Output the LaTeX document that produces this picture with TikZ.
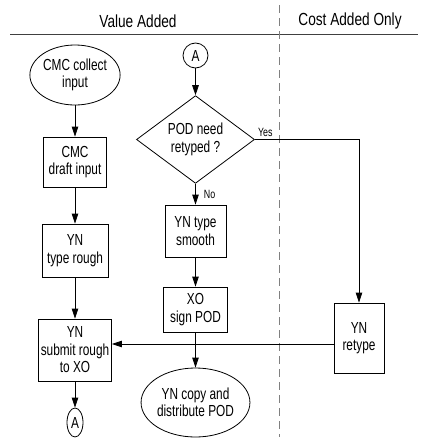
\documentclass[tikz,border=0pt]{standalone}
\usepackage{fontspec}
\setmainfont{Liberation Sans}
\newfontfamily\narrowfont[FakeStretch=0.74]{Liberation Sans}
\newfontfamily\headfont[FakeStretch=0.78]{Liberation Sans}
\usetikzlibrary{arrows.meta,positioning,shapes.geometric}

\begin{document}
\begin{tikzpicture}[x=1pt,y=-1pt,
    every node/.style={font=\narrowfont\fontsize{16}{17.5}\selectfont,align=center,inner sep=0pt},
    box/.style={draw,line width=0.8pt,rectangle},
    term/.style={draw,line width=0.8pt,ellipse},
    conn/.style={draw,line width=0.8pt,ellipse,minimum width=25pt,minimum height=25pt},
    dec/.style={draw,line width=0.8pt,diamond,minimum width=118pt,minimum height=73pt},
    arr/.style={-{Triangle[length=10pt,width=6.5pt]},line width=0.8pt},
    lbl/.style={font=\narrowfont\fontsize{12}{13}\selectfont},
    hdr/.style={font=\headfont\fontsize{17.5}{20}\selectfont}]
  \useasboundingbox (0,0) rectangle (421,439);

  % swimlane headers
  \node[hdr] (vadd) at (138,21) {Value Added};
  \node[hdr] (cadd) at (350,21) {Cost Added Only};
  \draw[line width=0.8pt,black!75] (10,34) -- (418,34);
  \draw[line width=0.8pt,gray,dash pattern=on 8pt off 5pt] (279,5) -- (279,437);

  % left column
  \node[term,minimum width=82pt,minimum height=60pt] (collect) at (75,75) {CMC collect\\input};
  \node[box,minimum width=63pt,minimum height=50pt] (draft) at (75,162) {CMC\\draft input};
  \node[box,minimum width=66pt,minimum height=53pt] (rough) at (75,250.5) {YN\\type rough};
  \node[box,minimum width=73pt,minimum height=62pt] (submit) at (75,350) {YN\\submit rough\\to XO};
  \node[conn,minimum width=16pt,minimum height=29pt] (abot) at (75,422.5) {A};

  % middle column
  \node[conn] (atop) at (195.5,55.5) {A};
  \node[dec] (need) at (195.5,139.5) {POD need\\retyped ?};
  \node[box,minimum width=61pt,minimum height=52pt] (smooth) at (195.5,231) {YN type\\smooth};
  \node[box,minimum width=64pt,minimum height=45pt] (sign) at (195.5,309.5) {XO\\sign POD};
  \node[term,minimum width=99pt,minimum height=69pt] (copy) at (195.5,402.5) {YN copy and\\distribute POD};

  % cost lane
  \node[box,minimum width=50pt,minimum height=70pt] (retype) at (359,338) {YN\\retype};

  \draw[arr] (collect) -- (draft);
  \draw[arr] (draft) -- (rough);
  \draw[arr] (rough) -- (submit);
  \draw[arr] (submit) -- (abot);

  \draw[arr] (atop) -- (need);
  \draw[arr] (need) -- node[lbl,right=8pt] (no) {No} (smooth);
  \draw[arr] (smooth) -- (sign);
  \draw[arr] (sign) -- (copy);

  \draw[arr] (need.east) -| (retype.north);
  \node[lbl,above right=3pt and 3pt of need.east] (yes) {Yes};
  \coordinate (rt) at ([yshift=-6pt]retype.west);
  \draw[arr] (rt) -- (rt -| submit.east);
\end{tikzpicture}
\end{document}
